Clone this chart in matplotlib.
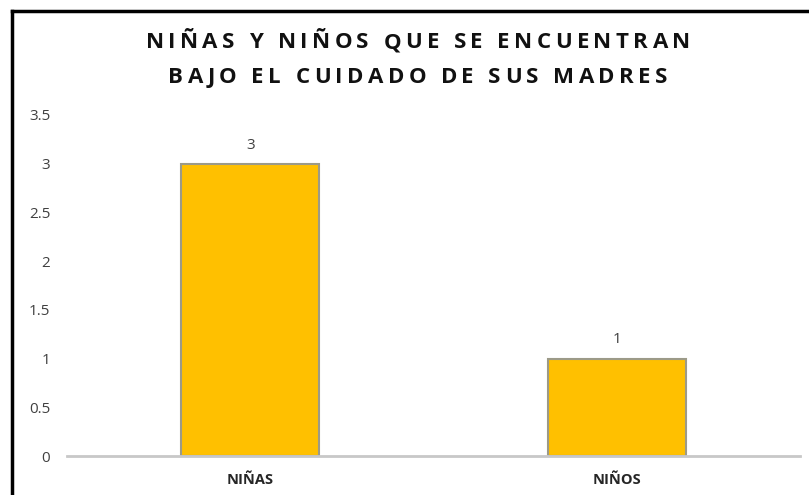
import matplotlib
matplotlib.use("Agg")
import matplotlib.pyplot as plt
from matplotlib.lines import Line2D

categories = ["NIÑAS", "NIÑOS"]
values = [3, 1]
yticks = [0, 0.5, 1, 1.5, 2, 2.5, 3, 3.5]
ytick_labels = ["0", "0.5", "1", "1.5", "2", "2.5", "3", "3.5"]
title_lines = ["NIÑAS Y NIÑOS QUE SE ENCUENTRAN", "BAJO EL CUIDADO DE SUS MADRES"]

W, H = 809, 495
fig = plt.figure(figsize=(W / 100, H / 100), dpi=100)
fig.patch.set_facecolor("white")

# frame lines (top and left)
fig.add_artist(Line2D([12 / W, 1.0], [1 - 11 / H, 1 - 11 / H], color="black", lw=2.5, transform=fig.transFigure))
fig.add_artist(Line2D([12 / W, 12 / W], [0, 1 - 11 / H], color="black", lw=2.5, transform=fig.transFigure))

left, right = 67 / W, 800 / W
bottom, top = 1 - 456 / H, 1 - 115 / H
ax = fig.add_axes([left, bottom, right - left, top - bottom])

x = list(range(len(categories)))
ax.bar(x, values, width=0.377, color="#FFC000", edgecolor="#9C9A88", linewidth=1.5, zorder=3)

ax.set_xlim(-0.5, len(categories) - 0.5)
ax.set_ylim(0, 3.5)
ax.set_yticks(yticks)
ax.set_yticklabels(ytick_labels)
ax.set_xticks(x)
ax.set_xticklabels(categories, fontweight="bold")

for s in ["top", "right", "left"]:
    ax.spines[s].set_visible(False)
ax.spines["bottom"].set_color("#C8C8C8")
ax.spines["bottom"].set_linewidth(2)
ax.spines["bottom"].set_zorder(4)

ax.tick_params(axis="y", length=0, pad=12, labelsize=11, labelcolor="#404040")
ax.tick_params(axis="x", length=0, pad=12, labelsize=10.5, labelcolor="#262626")
for lab in ax.get_yticklabels() + ax.get_xticklabels():
    lab.set_fontfamily("Open Sans")

for xi, v in zip(x, values):
    ax.annotate(str(v), (xi, v), xytext=(0, 8), textcoords="offset points",
                ha="center", va="bottom", fontsize=11, color="#404040", family="Open Sans")

# title with letter spacing, laid out character by character
renderer = fig.canvas.get_renderer()
tracking = 4.4  # px between characters
baselines_y = [48, 83]
cx = (143 + 693) / 2
for line, yb in zip(title_lines, baselines_y):
    texts = []
    widths = []
    for ch in line:
        t = fig.text(0, 1 - yb / H, ch, ha="left", va="baseline", fontsize=16,
                     fontweight="bold", family="Open Sans", color="#111111")
        if ch == " ":
            w = 16 * 100 / 72 * 0.26
        else:
            w = t.get_window_extent(renderer).width
        texts.append(t)
        widths.append(w)
    total = sum(widths) + tracking * (len(line) - 1)
    xpos = cx - total / 2
    for t, w in zip(texts, widths):
        t.set_x(xpos / W)
        xpos += w + tracking

fig.savefig("out.png", dpi=100, facecolor="white")
